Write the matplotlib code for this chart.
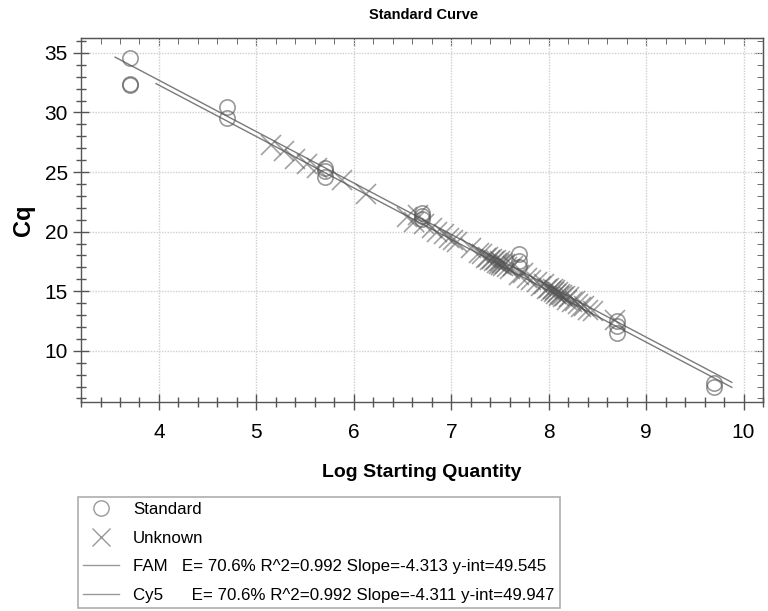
import matplotlib
matplotlib.use("Agg")
import matplotlib.pyplot as plt
from matplotlib.lines import Line2D
from matplotlib.ticker import MultipleLocator

plt.rcParams['font.family'] = ['Liberation Sans', 'DejaVu Sans']

# Standards (circles)
std_x = [3.7, 3.7, 3.7, 4.7, 4.7, 5.7, 5.7, 5.7, 6.7, 6.7, 6.7,
         7.7, 7.7, 7.7, 8.7, 8.7, 8.7, 9.7, 9.7]
std_cq = [34.6, 32.4, 32.3, 30.5, 29.5, 25.3, 25.1, 24.6, 21.6, 21.3, 21.1,
          18.1, 17.5, 17.0, 12.5, 12.1, 11.5, 7.3, 7.0]

# Unknowns (crosses)
unk_x = [5.15, 5.28, 5.40, 5.52, 5.62, 5.88, 6.12, 6.55, 6.62, 6.66, 6.72,
         6.80, 6.85, 6.93, 6.98, 7.02, 7.06, 7.20, 7.28, 7.32, 7.36, 7.38,
         7.40, 7.42, 7.44, 7.46, 7.47, 7.49, 7.50, 7.51, 7.52, 7.53, 7.55,
         7.57, 7.60, 7.63, 7.70, 7.74, 7.78, 7.82, 7.88, 7.92, 7.95, 7.98,
         8.00, 8.02, 8.04, 8.05, 8.07, 8.08, 8.10, 8.11, 8.12, 8.14, 8.15,
         8.17, 8.19, 8.21, 8.24, 8.27, 8.30, 8.33, 8.36, 8.40, 8.45, 8.68]
unk_cq = [27.3, 26.8, 26.1, 25.7, 25.3, 24.3, 23.2, 21.2, 20.8, 21.4, 20.6,
          20.3, 20.0, 19.8, 19.5, 19.3, 19.1, 18.6, 18.2, 18.1, 17.8, 17.9,
          17.6, 17.7, 17.5, 17.6, 17.4, 17.3, 17.5, 17.2, 17.4, 17.1, 17.3,
          17.0, 16.9, 17.1, 16.4, 16.5, 16.1, 15.9, 15.8, 15.4, 15.6, 15.2,
          15.3, 15.0, 15.2, 14.9, 15.1, 14.8, 14.9, 14.6, 14.8, 14.7, 14.5,
          14.6, 14.3, 14.5, 14.1, 14.2, 13.9, 13.7, 13.8, 13.4, 13.3, 12.6]

# Fit lines
fits = ["FAM", "Cy5"]
slopes = [-4.313, -4.311]
intercepts = [49.545, 49.947]
fit_start = [3.97, 3.55]
fit_end = [9.88, 9.88]
eff = ["70.6%", "70.6%"]
r2 = ["0.992", "0.992"]

fig = plt.figure(figsize=(7.68, 6.11), dpi=100)
ax = fig.add_axes([0.1055, 0.342, 0.888, 0.596])

gray = '#7a7a7a'
for i in range(2):
    xs = [fit_start[i], fit_end[i]]
    ys = [slopes[i] * v + intercepts[i] for v in xs]
    ax.plot(xs, ys, color=gray, lw=1.0, zorder=3)

ax.plot(std_x, std_cq, linestyle='none', marker='o', ms=11,
        mfc='none', mec='#555555', mew=1.2, alpha=0.6, zorder=4)
ax.plot(unk_x, unk_cq, linestyle='none', marker='x', ms=14,
        mec='#555555', mew=1.2, alpha=0.55, zorder=4)

ax.set_xlim(3.2, 10.2)
ax.set_ylim(5.7, 36.26)
ax.xaxis.set_major_locator(MultipleLocator(1))
ax.xaxis.set_minor_locator(MultipleLocator(0.2))
ax.yaxis.set_major_locator(MultipleLocator(5))
ax.yaxis.set_minor_locator(MultipleLocator(1))
ax.set_yticks([10, 15, 20, 25, 30, 35])
ax.set_xticks([4, 5, 6, 7, 8, 9, 10])
ax.grid(True, which='major', color='#cfcfcf', linestyle=(0, (1, 1)), lw=1.0)
for s in ax.spines.values():
    s.set_color('#555555')
    s.set_linewidth(1.0)
ax.tick_params(which='both', direction='inout', colors='#555555',
               labelcolor='black', labelsize=15)
ax.tick_params(which='major', length=12, width=1.0)
ax.tick_params(which='minor', length=7, width=1.0)
ax.tick_params(axis='x', pad=9)

secx = ax.secondary_xaxis('top')
secx.xaxis.set_major_locator(MultipleLocator(1))
secx.xaxis.set_minor_locator(MultipleLocator(0.2))
secx.tick_params(which='both', direction='in', labeltop=False, colors='#555555')
secx.tick_params(which='major', length=6)
secx.tick_params(which='minor', length=4)
secx.spines['top'].set_color('#555555')
secy = ax.secondary_yaxis('right')
secy.yaxis.set_major_locator(MultipleLocator(5))
secy.yaxis.set_minor_locator(MultipleLocator(1))
secy.tick_params(which='both', direction='in', labelright=False, colors='#555555')
secy.tick_params(which='major', length=6)
secy.tick_params(which='minor', length=4)
secy.spines['right'].set_color('#555555')

ax.set_xlabel("Log Starting Quantity", fontsize=14, fontweight='bold', labelpad=16)
ax.set_ylabel("Cq", fontsize=17, fontweight='bold', labelpad=7)
fig.text(0.552, 0.975, "Standard Curve", ha='center', va='center',
         fontsize=10.5, fontweight='bold')

handles = [
    Line2D([], [], linestyle='none', marker='o', ms=11, mfc='none', mec='#999999', mew=1.0),
    Line2D([], [], linestyle='none', marker='x', ms=13, mec='#999999', mew=1.0),
    Line2D([], [], color='#999999', lw=1.0),
    Line2D([], [], color='#999999', lw=1.0),
]
labels = [
    "Standard",
    "Unknown",
    f"{fits[0]}   E= {eff[0]} R^2={r2[0]} Slope={slopes[0]} y-int={intercepts[0]}",
    f"{fits[1]}      E= {eff[1]} R^2={r2[1]} Slope={slopes[1]} y-int={intercepts[1]}",
]
leg = fig.legend(handles, labels, loc='upper left',
                 bbox_to_anchor=(78 / 768, 1 - 497 / 611), fontsize=12.2,
                 frameon=True, fancybox=False, edgecolor='#999999',
                 handlelength=2.1, handletextpad=0.85, labelspacing=0.8,
                 borderpad=0.3, borderaxespad=0)
leg.get_frame().set_linewidth(1.2)

fig.savefig("out.png", dpi=100)
